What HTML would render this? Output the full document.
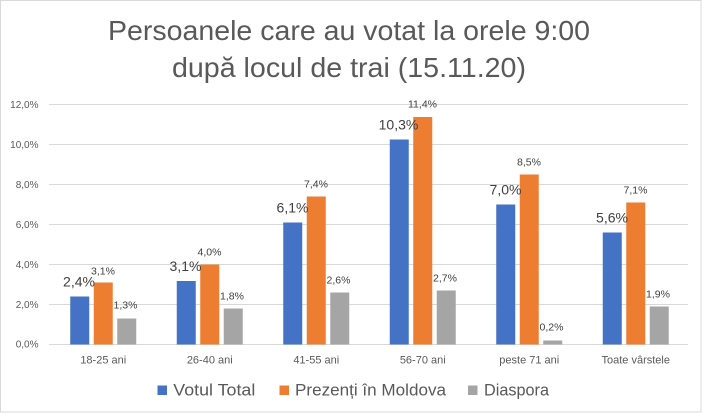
<!DOCTYPE html>
<html>
<head>
<meta charset="utf-8">
<style>
  html, body { margin:0; padding:0; background:#ffffff; }
  body { width:703px; height:414px; overflow:hidden; }
  svg { display:block; }
  text { font-family: "Liberation Sans", "DejaVu Sans", sans-serif; }
</style>
</head>
<body>
<svg width="703" height="414" viewBox="0 0 703 414" xmlns="http://www.w3.org/2000/svg">
  <rect x="0" y="0" width="703" height="414" fill="#ffffff"/>
  <rect x="0.5" y="0.5" width="700.5" height="411.5" fill="none" stroke="#d9d9d9" stroke-width="1"/>

  <!-- Title -->
  <text x="108" y="40" font-size="28" fill="#595959" textLength="482" lengthAdjust="spacingAndGlyphs">Persoanele care au votat la orele 9:00</text>
  <text x="172" y="77" font-size="28" fill="#595959" textLength="354" lengthAdjust="spacingAndGlyphs">după locul de trai (15.11.20)</text>

  <!-- Gridlines -->
  <g stroke="#d9d9d9" stroke-width="1">
    <line x1="49" y1="104.5" x2="688" y2="104.5"/>
    <line x1="49" y1="144.5" x2="688" y2="144.5"/>
    <line x1="49" y1="184.5" x2="688" y2="184.5"/>
    <line x1="49" y1="224.5" x2="688" y2="224.5"/>
    <line x1="49" y1="264.5" x2="688" y2="264.5"/>
    <line x1="49" y1="304.5" x2="688" y2="304.5"/>
    <line x1="49" y1="344.5" x2="688" y2="344.5"/>
  </g>

  <!-- Y tick labels -->
  <g font-size="10" fill="#595959" text-anchor="end">
    <text x="38.5" y="108">12,0%</text>
    <text x="38.5" y="148">10,0%</text>
    <text x="38.5" y="188">8,0%</text>
    <text x="38.5" y="228">6,0%</text>
    <text x="38.5" y="268">4,0%</text>
    <text x="38.5" y="308">2,0%</text>
    <text x="38.5" y="347.5">0,0%</text>
  </g>

  <!-- Bars -->
  <g>
    <!-- cat1 c=103.25 -->
    <rect x="70.25" y="296.5" width="19" height="48" fill="#4472C4"/>
    <rect x="93.75" y="282.5" width="19" height="62" fill="#ED7D31"/>
    <rect x="117.25" y="318.5" width="19" height="26" fill="#A5A5A5"/>
    <!-- cat2 c=209.75 -->
    <rect x="176.75" y="281" width="19" height="63.5" fill="#4472C4"/>
    <rect x="200.25" y="264.5" width="19" height="80" fill="#ED7D31"/>
    <rect x="223.75" y="308.5" width="19" height="36" fill="#A5A5A5"/>
    <!-- cat3 c=316.25 -->
    <rect x="283.25" y="222.5" width="19" height="122" fill="#4472C4"/>
    <rect x="306.75" y="196.5" width="19" height="148" fill="#ED7D31"/>
    <rect x="330.25" y="292.5" width="19" height="52" fill="#A5A5A5"/>
    <!-- cat4 c=422.75 -->
    <rect x="389.75" y="139.5" width="19" height="205" fill="#4472C4"/>
    <rect x="413.25" y="117" width="19" height="227.5" fill="#ED7D31"/>
    <rect x="436.75" y="290.5" width="19" height="54" fill="#A5A5A5"/>
    <!-- cat5 c=529.25 -->
    <rect x="496.25" y="204.5" width="19" height="140" fill="#4472C4"/>
    <rect x="519.75" y="174.5" width="19" height="170" fill="#ED7D31"/>
    <rect x="543.25" y="340.5" width="19" height="4" fill="#A5A5A5"/>
    <!-- cat6 c=635.75 -->
    <rect x="602.75" y="232.5" width="19" height="112" fill="#4472C4"/>
    <rect x="626.25" y="202.5" width="19" height="142" fill="#ED7D31"/>
    <rect x="649.75" y="306.5" width="19" height="38" fill="#A5A5A5"/>
  </g>

  <!-- Blue data labels -->
  <g font-size="14" fill="#404040" text-anchor="middle">
    <text x="79" y="286.7">2,4%</text>
    <text x="185.5" y="271">3,1%</text>
    <text x="292.5" y="212.5">6,1%</text>
    <text x="398.5" y="129.5">10,3%</text>
    <text x="505.5" y="194.5">7,0%</text>
    <text x="612" y="222.5">5,6%</text>
  </g>

  <!-- Orange & gray data labels -->
  <g font-size="10.5" fill="#404040" text-anchor="middle">
    <text x="103" y="274.3">3,1%</text>
    <text x="209.5" y="255.5">4,0%</text>
    <text x="316" y="187.5">7,4%</text>
    <text x="422.5" y="107.5">11,4%</text>
    <text x="529" y="165.5">8,5%</text>
    <text x="635.5" y="193.5">7,1%</text>

    <text x="125.5" y="308.3">1,3%</text>
    <text x="232" y="299.5">1,8%</text>
    <text x="338.5" y="283.5">2,6%</text>
    <text x="445" y="281.5">2,7%</text>
    <text x="551.5" y="330.5">0,2%</text>
    <text x="658" y="297.5">1,9%</text>
  </g>

  <!-- Category labels -->
  <g font-size="11" fill="#595959" text-anchor="middle">
    <text x="103.25" y="363.3">18-25 ani</text>
    <text x="209.75" y="363.3">26-40 ani</text>
    <text x="316.25" y="363.3">41-55 ani</text>
    <text x="422.75" y="363.3">56-70 ani</text>
    <text x="529.25" y="363.3">peste 71 ani</text>
    <text x="635.75" y="363.3">Toate vârstele</text>
  </g>

  <!-- Legend -->
  <rect x="157.5" y="385.5" width="9.5" height="9.5" fill="#4472C4"/>
  <text x="173.3" y="395.5" font-size="17" fill="#595959" textLength="82" lengthAdjust="spacingAndGlyphs">Votul Total</text>
  <rect x="279.5" y="385.5" width="9.5" height="9.5" fill="#ED7D31"/>
  <text x="295" y="395.5" font-size="17" fill="#595959" textLength="151" lengthAdjust="spacingAndGlyphs">Prezenți în Moldova</text>
  <rect x="468" y="385.5" width="9.5" height="9.5" fill="#A5A5A5"/>
  <text x="484" y="395.5" font-size="17" fill="#595959" textLength="65" lengthAdjust="spacingAndGlyphs">Diaspora</text>
</svg>
</body>
</html>
